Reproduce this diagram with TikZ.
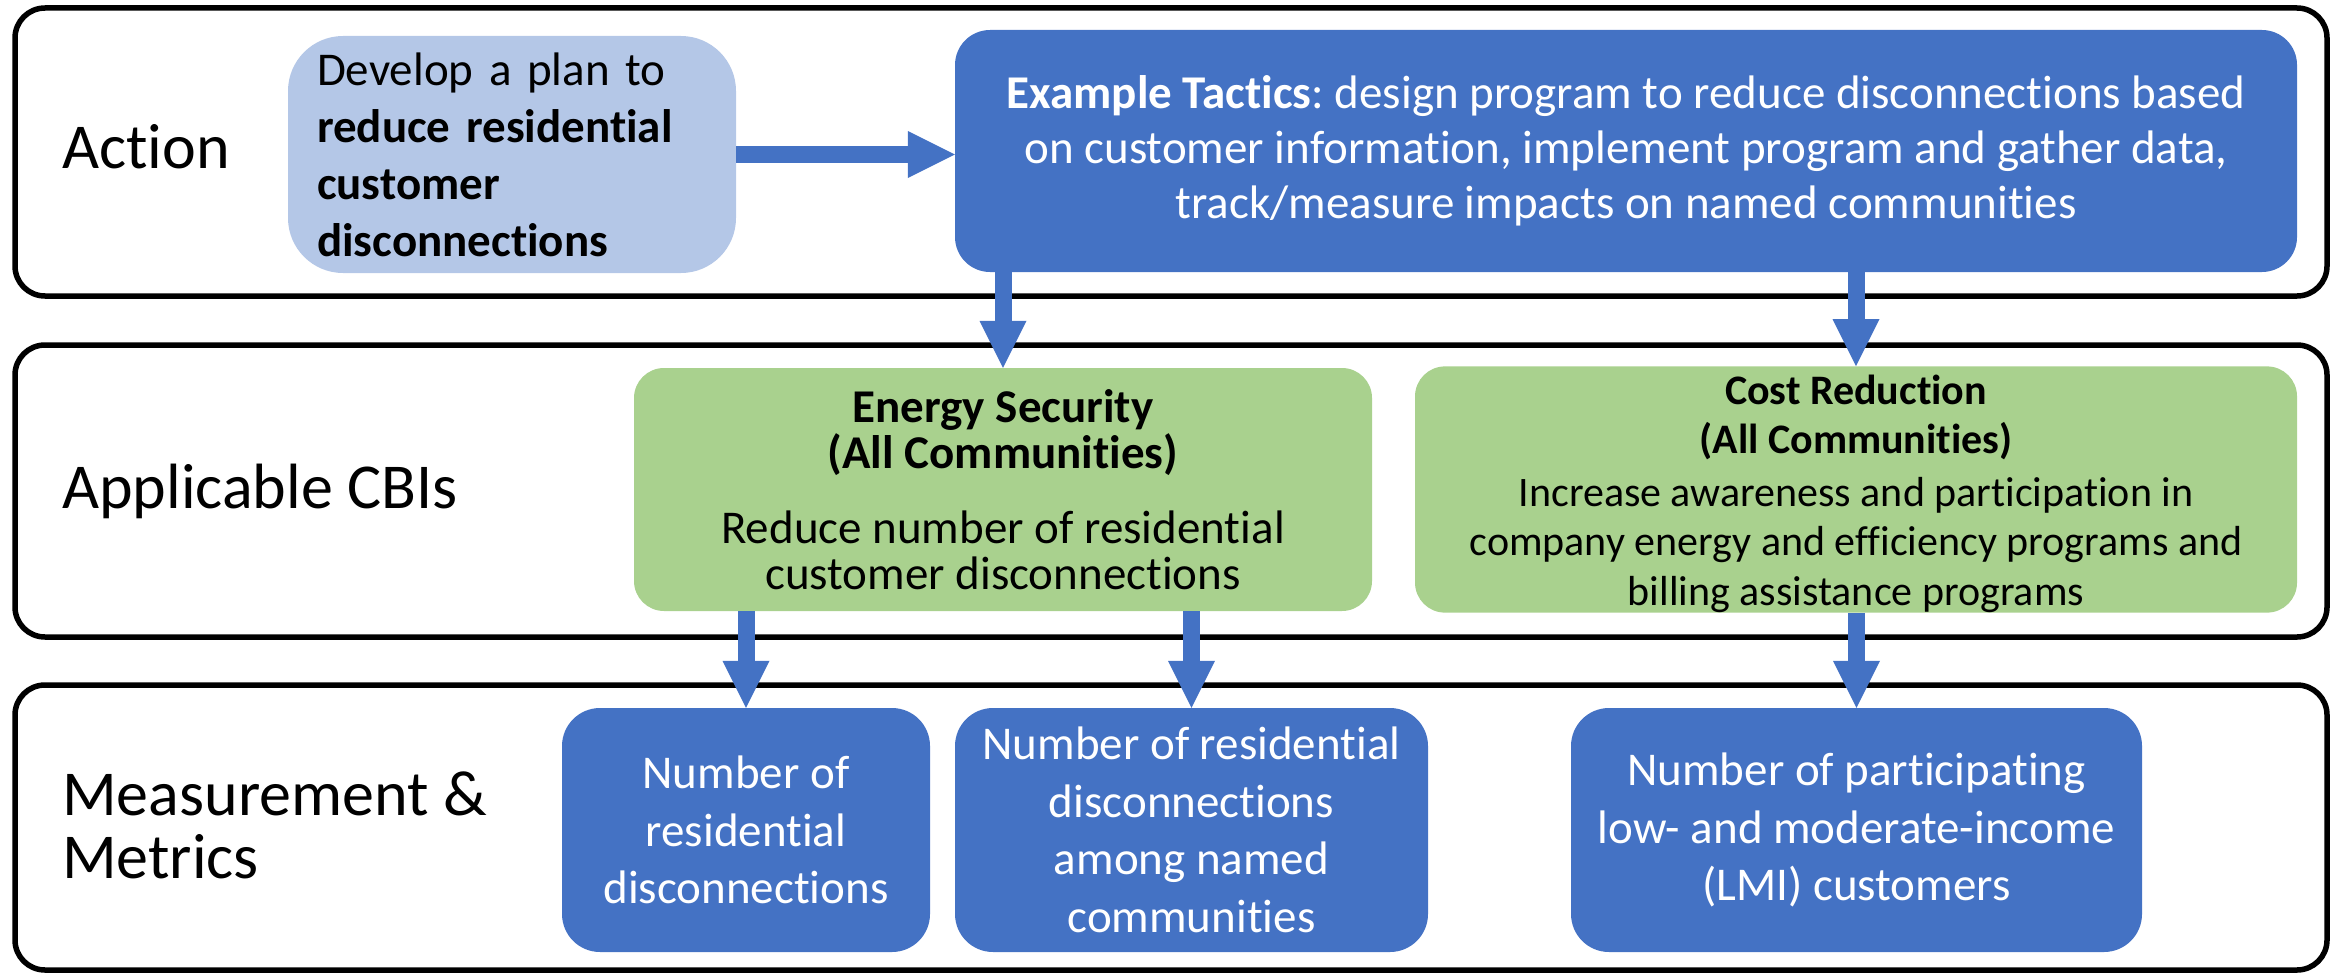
\documentclass[tikz,border=0pt]{standalone}
\usepackage{fontspec}
\setmainfont{Carlito}[RawFeature=-liga,RawFeature=-calt]
\usetikzlibrary{arrows.meta}
\definecolor{dblue}{HTML}{4472C4}
\definecolor{lblue}{HTML}{B4C7E7}
\definecolor{lgreen}{HTML}{A9D18E}
\frenchspacing
\begin{document}
\begin{tikzpicture}[x=1pt,y=-1pt,
  panel/.style={draw=black,line width=5.5pt,rounded corners=30pt,inner sep=0pt},
  lbl/.style={anchor=base west,align=left,inner sep=0pt,font=\fontsize{64}{63}\selectfont},
  lightbox/.style={fill=lblue,rounded corners=55pt,inner sep=0pt,align=left,text width=390pt,
    font=\fontsize{47}{57}\selectfont},
  darkbox/.style={fill=dblue,text=white,rounded corners=35pt,inner sep=0pt,align=center,
    font=\fontsize{47}{55}\selectfont},
  metbox/.style={fill=dblue,text=white,rounded corners=38pt,inner sep=0pt,align=center,
    font=\fontsize{47}{57.5}\selectfont},
  greenbox/.style={fill=lgreen,rounded corners=30pt,inner sep=0pt,align=center},
  blk/.style={draw=dblue,line width=17pt,-{Triangle[length=47pt,width=47pt,line width=0pt]}}
]
\useasboundingbox (0,0) rectangle (2341,974);
% panels
\node[panel,minimum width=2312pt,minimum height=288pt] (pact) at (1171,152) {};
\node[panel,minimum width=2312pt,minimum height=292pt] (pcbi) at (1171,491) {};
\node[panel,minimum width=2312pt,minimum height=285pt] (pmet) at (1171,827.5) {};
% labels
\node[lbl] (lact) at (62,168) {Action};
\node[lbl] (lcbi) at (62,508) {Applicable CBIs};
\node[lbl] (lmet) at (62,878) {Measurement \&\\Metrics};
% action row
\node[lightbox,minimum width=448pt,minimum height=237pt] (light) at (512,154.5)
  {Develop a plan to\\\textbf{reduce residential}\\\textbf{customer}\\\textbf{disconnections}};
\node[darkbox,minimum width=1342pt,minimum height=242pt] (dark) at (1626,151)
  {\textbf{Example Tactics}: design program to reduce disconnections based\\on customer information, implement program and gather data,\\track/measure impacts on named communities};
% CBI row
\node[greenbox,minimum width=738pt,minimum height=243pt,font=\fontsize{47}{46}\selectfont] (es) at (1003,489.5)
  {\textbf{Energy Security}\\\textbf{(All Communities)}\\[29pt]Reduce number of residential\\customer disconnections};
\node[greenbox,minimum width=882pt,minimum height=243pt,font=\fontsize{42}{49.5}\selectfont] (cr) at (1856,489.5)
  {\rule{0pt}{38pt}\textbf{Cost Reduction}\\\textbf{(All Communities)}\\[3pt]Increase awareness and participation in\\company energy and efficiency programs and\\billing assistance programs};
% metrics row
\node[metbox,minimum width=368pt,minimum height=244pt] (m1) at (746,830)
  {Number of\\residential\\disconnections};
\node[metbox,minimum width=473pt,minimum height=244pt] (m2) at (1191.5,830)
  {Number of residential\\disconnections\\among named\\communities};
\node[metbox,minimum width=571pt,minimum height=244pt] (m3) at (1856.5,830)
  {Number of participating\\low- and moderate-income\\(LMI) customers};
% connectors
\draw[blk] (light.east) -- (dark.west |- light.east);
\draw[blk] (dark.south -| es.north) -- (es.north);
\draw[blk] (dark.south -| cr.north) -- (cr.north);
\draw[blk] (es.south -| m1.north) -- (m1.north);
\draw[blk] (es.south -| m2.north) -- (m2.north);
\draw[blk] (cr.south -| m3.north) -- (m3.north);
\end{tikzpicture}
\end{document}
